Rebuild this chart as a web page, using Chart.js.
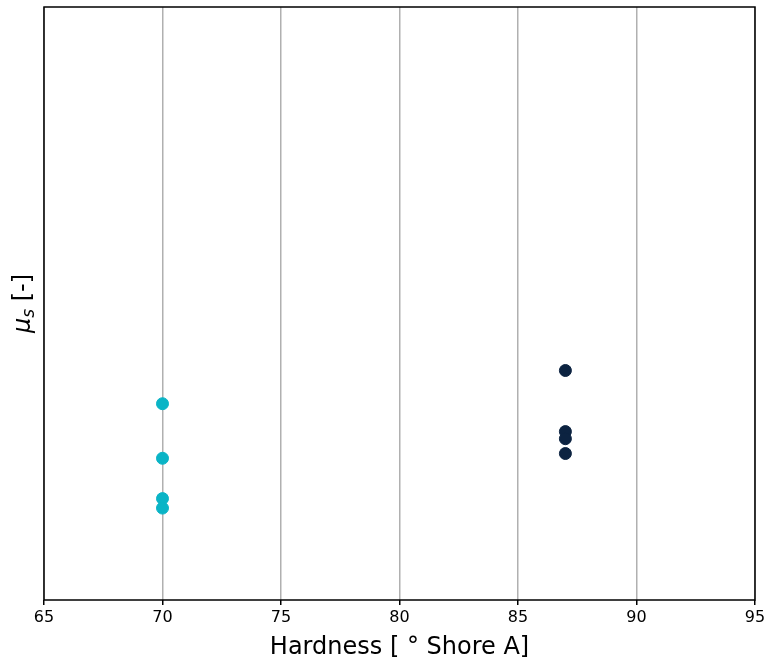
<!DOCTYPE html>
<html>
<head>
<meta charset="utf-8">
<script src="https://cdn.jsdelivr.net/npm/chart.js@4/dist/chart.umd.min.js"></script>
<style>
  html, body { margin: 0; padding: 0; background: #fff; }
  #wrap { width: 769px; height: 668px; }
</style>
</head>
<body>
<div id="wrap"><canvas id="mu"></canvas></div>
<script>
// hardness of each material
var hardness70 = [70, 70, 70, 70];
var hardness87 = [87, 87, 87, 87];
// static friction coefficient (no scale shown, relative values)
var mu70 = [0.331, 0.239, 0.171, 0.155];
var mu87 = [0.387, 0.284, 0.272, 0.247];
var xTicks = [65, 70, 75, 80, 85, 90, 95];

function pts(xs, ys) {
  return xs.map(function (x, i) { return { x: x, y: ys[i] }; });
}

// frame round the plot + y label with italic mu and subscript s
var frame = {
  id: "frame",
  afterDraw: function (c) {
    var a = c.chartArea, g = c.ctx;
    g.save();
    g.strokeStyle = "#000";
    g.lineWidth = 1.5;
    g.strokeRect(a.left, a.top, a.right - a.left, a.bottom - a.top);
    g.translate(30, (a.top + a.bottom) / 2);
    g.rotate(-Math.PI / 2);
    g.fillStyle = "#000";
    g.textBaseline = "alphabetic";
    var w1, w2, w3;
    g.font = "italic 24px 'DejaVu Sans'";
    w1 = g.measureText("\u03bc").width;
    g.font = "italic 17px 'DejaVu Sans'";
    w2 = g.measureText("s").width;
    g.font = "24px 'DejaVu Sans'";
    w3 = g.measureText(" [-]").width;
    var x0 = -(w1 + w2 + w3) / 2;
    g.font = "italic 24px 'DejaVu Sans'";
    g.fillText("\u03bc", x0, 0);
    g.font = "italic 17px 'DejaVu Sans'";
    g.fillText("s", x0 + w1, 4);
    g.font = "24px 'DejaVu Sans'";
    g.fillText(" [-]", x0 + w1 + w2, 0);
    g.restore();
  }
};

var ctx = document.getElementById("mu").getContext("2d");
var chart = new Chart(ctx, {
  type: "scatter",
  data: {
    datasets: [
      {
        label: "70 Shore A",
        data: pts(hardness70, mu70),
        backgroundColor: "#0ab4c6",
        borderColor: "#0ab4c6",
        pointRadius: 6
      },
      {
        label: "87 Shore A",
        data: pts(hardness87, mu87),
        backgroundColor: "#0c2341",
        borderColor: "#0c2341",
        pointRadius: 6
      }
    ]
  },
  options: {
    responsive: true,
    maintainAspectRatio: false,
    animation: false,
    layout: { padding: { left: 36, right: 14, top: 5, bottom: 6 } },
    plugins: {
      legend: { display: false },
      tooltip: { enabled: false }
    },
    scales: {
      x: {
        type: "linear",
        min: 65,
        max: 95,
        afterBuildTicks: function (ax) {
          ax.ticks = xTicks.map(function (v) { return { value: v }; });
        },
        grid: { color: "#b0b0b0", lineWidth: 1.5, tickColor: "#000", tickLength: 5 },
        border: { display: false },
        ticks: { color: "#000", font: { family: "DejaVu Sans", size: 16 }, padding: 3, maxRotation: 0 },
        title: {
          display: true,
          text: "Hardness [ \u00b0 Shore A]",
          color: "#000",
          font: { family: "DejaVu Sans", size: 24 },
          padding: { top: 3, bottom: 0 }
        }
      },
      y: {
        min: 0,
        max: 1,
        grid: { display: false },
        border: { display: false },
        ticks: { display: false }
      }
    }
  },
  plugins: [frame]
});
</script>
</body>
</html>
